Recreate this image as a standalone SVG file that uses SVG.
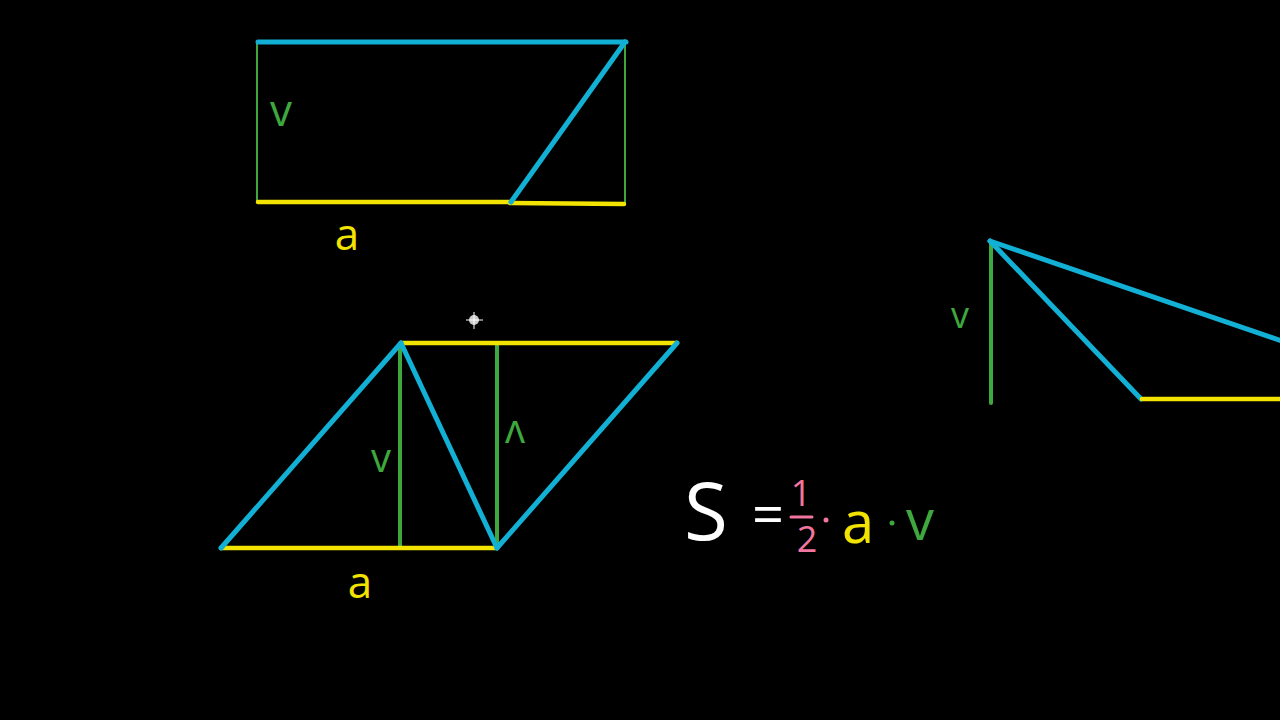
<svg xmlns="http://www.w3.org/2000/svg" width="1280" height="720" viewBox="0 0 1280 720">
<style>
.c{stroke:#12b0d4;stroke-width:5;stroke-linecap:round;fill:none}
.y{stroke:#f2e400;stroke-width:4.5;stroke-linecap:round;fill:none}
.g{stroke:#3ea83e;stroke-width:4;stroke-linecap:round;fill:none}
.gt{stroke:#3ea83e;stroke-width:2;fill:none}
.t{font-family:"Open Sans","Liberation Sans",sans-serif;font-weight:400}
.tg{fill:#3ea83e}
.ty{fill:#f2e400}
.tp{fill:#f2759e}
.tw{fill:#ffffff}
</style>
<rect width="1280" height="720" fill="#000"/>
<g id="rectangle">
<line class="gt" x1="257" y1="42" x2="257" y2="203"/>
<line class="gt" x1="625" y1="42" x2="625" y2="204"/>
<line class="y" x1="258" y1="202" x2="510" y2="202"/>
<line class="y" x1="510" y1="203" x2="624" y2="204"/>
<line class="c" x1="258" y1="42" x2="626" y2="42"/>
<line class="c" x1="511" y1="202" x2="625" y2="42"/>
<text class="t tg" x="281" y="126" font-size="44" text-anchor="middle">v</text>
<text class="t ty" x="347" y="250" font-size="44" text-anchor="middle">a</text>
</g>
<g id="parallelogram">
<line class="g" x1="400" y1="344" x2="400" y2="548"/>
<line class="g" x1="497" y1="344" x2="497" y2="548"/>
<line class="y" x1="221" y1="548" x2="496" y2="548"/>
<line class="y" x1="402" y1="343" x2="677" y2="343"/>
<line class="c" x1="221" y1="548" x2="401" y2="343"/>
<line class="c" x1="401" y1="343" x2="497" y2="548"/>
<line class="c" x1="497" y1="548" x2="677" y2="343"/>
<text class="t tg" x="381" y="472" font-size="40" text-anchor="middle">v</text>
<text class="t tg" x="515" y="443" font-size="40" text-anchor="middle" transform="rotate(180 515 432)">v</text>
<text class="t ty" x="360" y="598" font-size="44" text-anchor="middle">a</text>
</g>
<g id="cursor">
<circle cx="474" cy="320" r="5" fill="#cccccc"/>
<line x1="466" y1="320" x2="483" y2="320" stroke="#ffffff" stroke-width="1"/>
<line x1="474" y1="312" x2="474" y2="329" stroke="#ffffff" stroke-width="1"/>
</g>
<g id="triangle">
<line class="g" x1="991" y1="243" x2="991" y2="403"/>
<line class="c" x1="990" y1="241" x2="1285" y2="342"/>
<line class="c" x1="990" y1="241" x2="1141" y2="399"/>
<line class="y" x1="1142" y1="399" x2="1285" y2="399"/>
<text class="t tg" x="960" y="328" font-size="36" text-anchor="middle">v</text>
</g>
<g id="formula">
<text class="t tw" x="706" y="540" font-size="80" text-anchor="middle">S</text>
<text class="t tw" x="768" y="534" font-size="56" text-anchor="middle">=</text>
<text class="t tp" x="801" y="506" font-size="36" text-anchor="middle">1</text>
<line x1="791" y1="517" x2="812" y2="517" stroke="#f2759e" stroke-width="3" stroke-linecap="round"/>
<text class="t tp" x="807" y="552" font-size="36" text-anchor="middle">2</text>
<circle cx="826" cy="520" r="2.5" fill="#f2759e"/>
<text class="t ty" x="858" y="543" font-size="58" text-anchor="middle">a</text>
<circle cx="892" cy="523" r="2.5" fill="#3ea83e"/>
<text class="t tg" x="920" y="540" font-size="56" text-anchor="middle">v</text>
</g>
</svg>
